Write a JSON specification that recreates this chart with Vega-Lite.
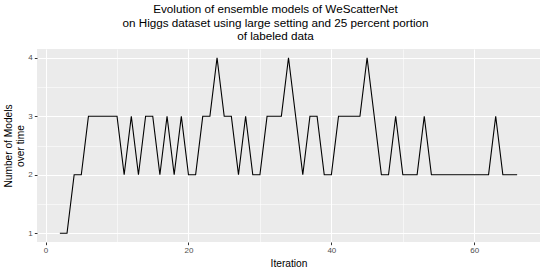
{
  "$schema": "https://vega.github.io/schema/vega-lite/v6.json",
  "width": 503,
  "height": 193,
  "autosize": {"type": "none"},
  "padding": {"left": 37, "top": 49, "right": 5, "bottom": 31},
  "background": "white",
  "title": {
    "text": ["Evolution of ensemble models of WeScatterNet", "on Higgs dataset using large setting and 25 percent portion", "of labeled data"],
    "anchor": "middle",
    "frame": "group",
    "dx": -13,
    "offset": 6,
    "font": "Liberation Sans",
    "fontSize": 11.7,
    "fontWeight": "normal",
    "color": "black",
    "lineHeight": 13.5
  },
  "config": {
    "view": {"fill": "#EBEBEB", "stroke": null},
    "axis": {
      "labelFont": "Liberation Sans",
      "titleFont": "Liberation Sans",
      "labelColor": "#4D4D4D",
      "labelFontSize": 8,
      "titleFontSize": 10.2,
      "titleFontWeight": "normal",
      "titleColor": "black",
      "tickColor": "#333333",
      "tickSize": 2.7,
      "domain": false,
      "gridColor": "white"
    }
  },
  "data": {
    "values": [
      {"x": 2, "y": 1}, {"x": 3, "y": 1}, {"x": 4, "y": 2}, {"x": 5, "y": 2},
      {"x": 6, "y": 3}, {"x": 7, "y": 3}, {"x": 8, "y": 3}, {"x": 9, "y": 3},
      {"x": 10, "y": 3}, {"x": 11, "y": 2}, {"x": 12, "y": 3}, {"x": 13, "y": 2},
      {"x": 14, "y": 3}, {"x": 15, "y": 3}, {"x": 16, "y": 2}, {"x": 17, "y": 3},
      {"x": 18, "y": 2}, {"x": 19, "y": 3}, {"x": 20, "y": 2}, {"x": 21, "y": 2},
      {"x": 22, "y": 3}, {"x": 23, "y": 3}, {"x": 24, "y": 4}, {"x": 25, "y": 3},
      {"x": 26, "y": 3}, {"x": 27, "y": 2}, {"x": 28, "y": 3}, {"x": 29, "y": 2},
      {"x": 30, "y": 2}, {"x": 31, "y": 3}, {"x": 32, "y": 3}, {"x": 33, "y": 3},
      {"x": 34, "y": 4}, {"x": 35, "y": 3}, {"x": 36, "y": 2}, {"x": 37, "y": 3},
      {"x": 38, "y": 3}, {"x": 39, "y": 2}, {"x": 40, "y": 2}, {"x": 41, "y": 3},
      {"x": 42, "y": 3}, {"x": 43, "y": 3}, {"x": 44, "y": 3}, {"x": 45, "y": 4},
      {"x": 46, "y": 3}, {"x": 47, "y": 2}, {"x": 48, "y": 2}, {"x": 49, "y": 3},
      {"x": 50, "y": 2}, {"x": 51, "y": 2}, {"x": 52, "y": 2}, {"x": 53, "y": 3},
      {"x": 54, "y": 2}, {"x": 55, "y": 2}, {"x": 56, "y": 2}, {"x": 57, "y": 2},
      {"x": 58, "y": 2}, {"x": 59, "y": 2}, {"x": 60, "y": 2}, {"x": 61, "y": 2},
      {"x": 62, "y": 2}, {"x": 63, "y": 3}, {"x": 64, "y": 2}, {"x": 65, "y": 2},
      {"x": 66, "y": 2}
    ]
  },
  "layer": [
    {
      "mark": {"type": "line", "opacity": 0},
      "encoding": {
        "x": {
          "field": "x", "type": "quantitative",
          "scale": {"domain": [-1.2, 69.2], "nice": false, "zero": false},
          "axis": {"orient": "bottom", "values": [10, 30, 50, 70], "grid": true, "gridWidth": 0.55, "labels": false, "ticks": false, "title": null}
        },
        "y": {
          "field": "y", "type": "quantitative",
          "scale": {"domain": [0.85, 4.15], "nice": false, "zero": false},
          "axis": {"orient": "left", "values": [1.5, 2.5, 3.5], "grid": true, "gridWidth": 0.55, "labels": false, "ticks": false, "title": null}
        }
      }
    },
    {
      "mark": {"type": "line", "color": "black", "strokeWidth": 1.1},
      "encoding": {
        "x": {
          "field": "x", "type": "quantitative",
          "axis": {"orient": "bottom", "values": [0, 20, 40, 60], "grid": true, "gridWidth": 1.1, "title": "Iteration", "labelPadding": 2, "titlePadding": 4}
        },
        "y": {
          "field": "y", "type": "quantitative",
          "axis": {"orient": "left", "values": [1, 2, 3, 4], "grid": true, "gridWidth": 1.1, "format": "d", "title": ["Number of Models", "over time"], "labelPadding": 2, "titlePadding": 2}
        }
      }
    }
  ],
  "resolve": {"axis": {"x": "independent", "y": "independent"}}
}
